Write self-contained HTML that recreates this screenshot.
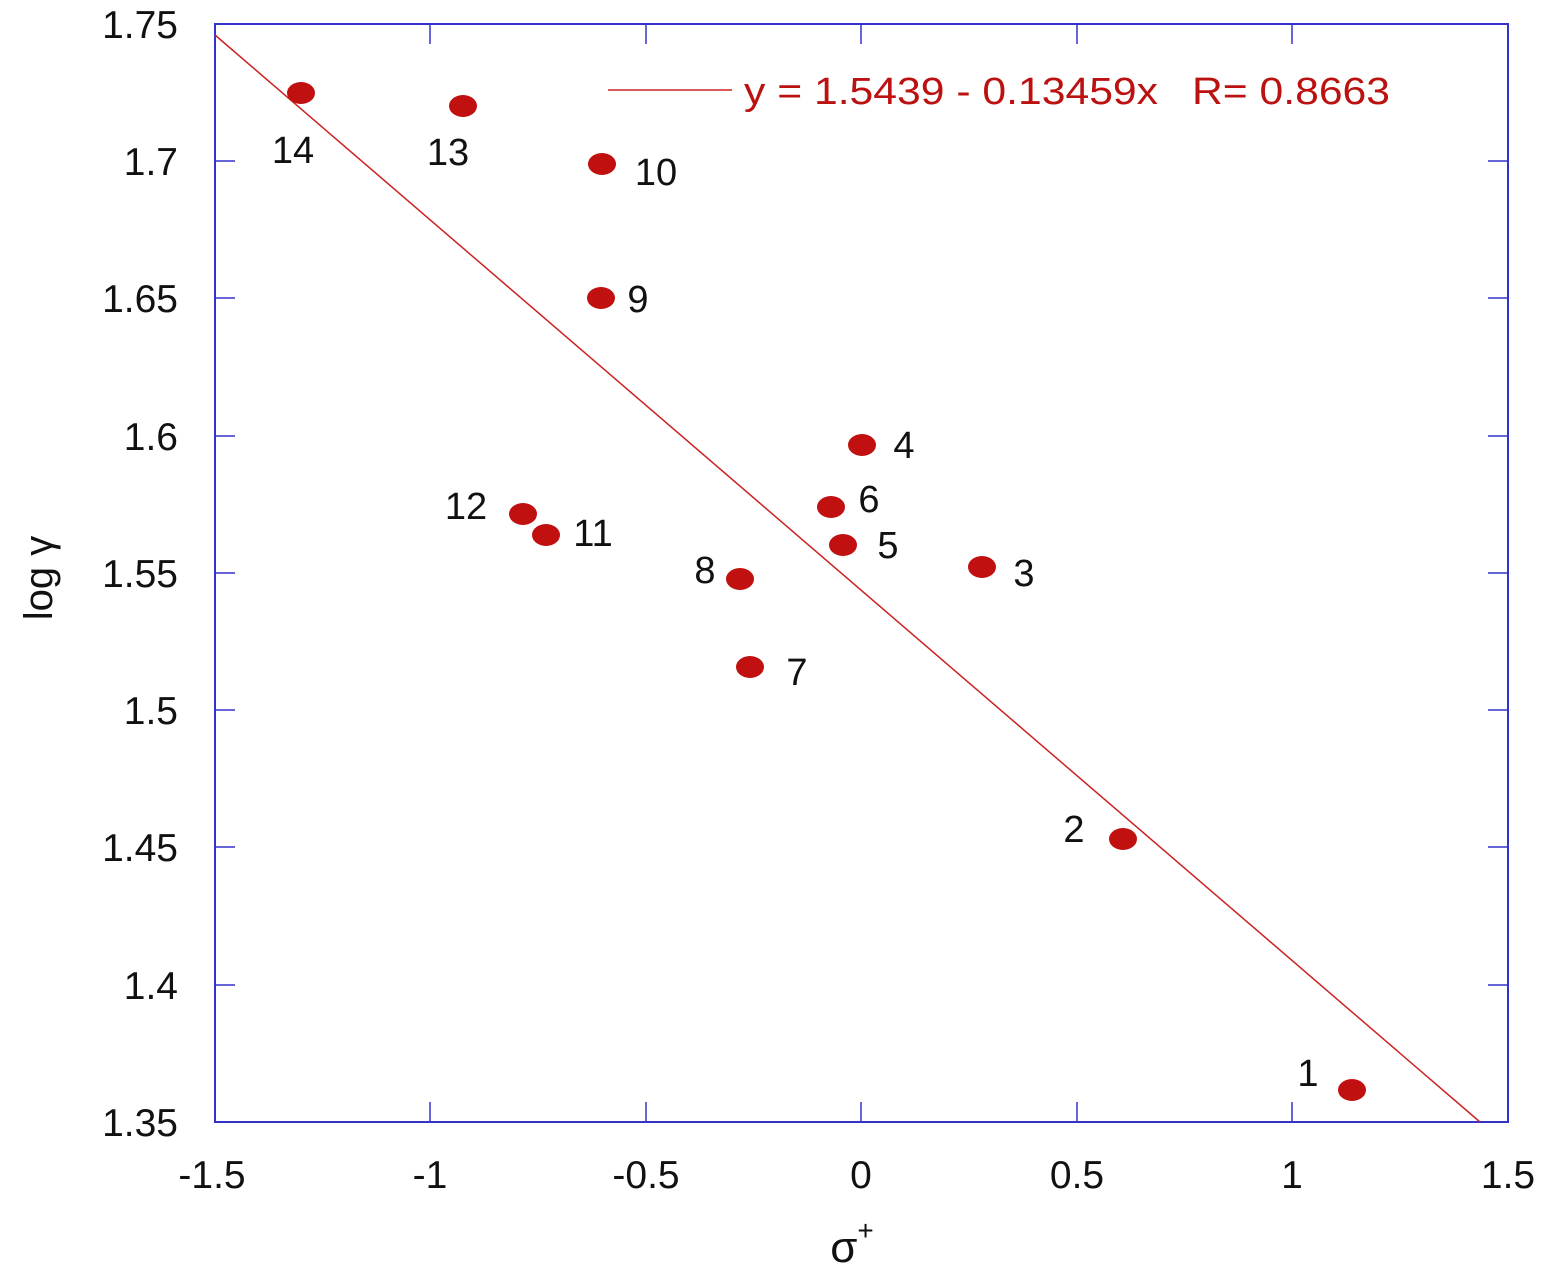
<!DOCTYPE html>
<html><head><style>body{margin:0;background:#fff}svg{display:block}text{font-family:"Liberation Sans",sans-serif}</style></head><body>
<svg width="1545" height="1278" xmlns="http://www.w3.org/2000/svg">
<rect x="215" y="24" width="1293" height="1098" fill="none" stroke="#3333cc" stroke-width="2"/>
<g stroke="#3333cc" stroke-width="1.5">
<path d="M430 24v20M646 24v20M861 24v20M1077 24v20M1292 24v20M430 1122v-20M646 1122v-20M861 1122v-20M1077 1122v-20M1292 1122v-20"/>
<path d="M215 161h20M215 298h20M215 436h20M215 573h20M215 710h20M215 847h20M215 985h20M1508 161h-20M1508 298h-20M1508 436h-20M1508 573h-20M1508 710h-20M1508 847h-20M1508 985h-20"/>
</g>
<g font-size="39" fill="#111" text-anchor="end">
<text x="178" y="38">1.75</text><text x="178" y="175">1.7</text><text x="178" y="312">1.65</text><text x="178" y="450">1.6</text><text x="178" y="587">1.55</text><text x="178" y="724">1.5</text><text x="178" y="861">1.45</text><text x="178" y="999">1.4</text><text x="178" y="1136">1.35</text>
</g>
<g font-size="39" fill="#111" text-anchor="middle">
<text x="212" y="1188">-1.5</text><text x="430" y="1188">-1</text><text x="646" y="1188">-0.5</text><text x="861" y="1188">0</text><text x="1077" y="1188">0.5</text><text x="1292" y="1188">1</text><text x="1508" y="1188">1.5</text>
<text x="852" y="1262" font-size="44">σ<tspan font-size="28" dy="-22">+</tspan></text>
</g>
<text transform="translate(52,578) rotate(-90)" font-size="40" text-anchor="middle" fill="#111">log γ</text>
<line x1="215" y1="35" x2="1480" y2="1122" stroke="#cc2222" stroke-width="1.5"/>
<line x1="608" y1="90" x2="732" y2="90" stroke="#cc2222" stroke-width="1.5"/>
<text x="744" y="104" font-size="38" fill="#bb1111" textLength="414" lengthAdjust="spacingAndGlyphs">y = 1.5439 - 0.13459x</text>
<text x="1192" y="104" font-size="38" fill="#bb1111" textLength="198" lengthAdjust="spacingAndGlyphs">R= 0.8663</text>
<g fill="#c01010">
<ellipse cx="301" cy="93" rx="14" ry="11"/><ellipse cx="463" cy="106" rx="14" ry="11"/><ellipse cx="602" cy="164" rx="14" ry="11"/><ellipse cx="601" cy="298" rx="14" ry="11"/><ellipse cx="862" cy="445" rx="14" ry="11"/><ellipse cx="831" cy="507" rx="14" ry="11"/><ellipse cx="843" cy="545" rx="14" ry="11"/><ellipse cx="982" cy="567" rx="14" ry="11"/><ellipse cx="523" cy="514" rx="14" ry="11"/><ellipse cx="546" cy="535" rx="14" ry="11"/><ellipse cx="740" cy="579" rx="14" ry="11"/><ellipse cx="750" cy="667" rx="14" ry="11"/><ellipse cx="1123" cy="839" rx="14" ry="11"/><ellipse cx="1352" cy="1090" rx="14" ry="11"/>
</g>
<g font-size="38" fill="#111" text-anchor="middle">
<text x="293" y="163">14</text><text x="448" y="165">13</text><text x="656" y="185">10</text><text x="638" y="312">9</text><text x="904" y="458">4</text><text x="869" y="512">6</text><text x="888" y="558">5</text><text x="1024" y="586">3</text><text x="466" y="519">12</text><text x="593" y="546">11</text><text x="705" y="583">8</text><text x="797" y="685">7</text><text x="1074" y="842">2</text><text x="1308" y="1086">1</text>
</g>
</svg>
</body></html>
